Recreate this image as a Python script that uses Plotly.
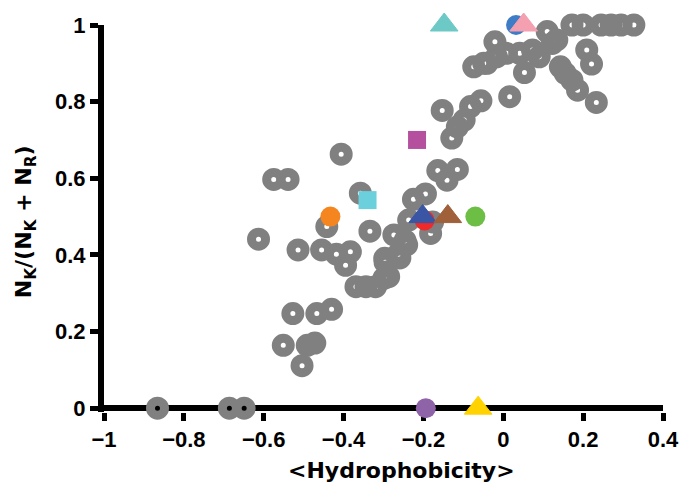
import plotly.graph_objects as go

# Gray data points (mean hydrophobicity, N_K/(N_K+N_R))
gray_x = [-0.866, -0.686, -0.649,
          -0.504, -0.551, -0.491, -0.472, -0.527, -0.467, -0.430,
          -0.369, -0.344, -0.320, -0.299, -0.287,
          -0.514, -0.455, -0.418, -0.383, -0.395, -0.297, -0.263,
          -0.613, -0.334, -0.442, -0.274, -0.246, -0.242, -0.259, -0.296,
          -0.237, -0.182, -0.177, -0.225, -0.195,
          -0.358, -0.575, -0.539, -0.406,
          -0.164, -0.115, -0.141,
          -0.129, -0.115, -0.098, -0.153, -0.082, -0.056, 0.016,
          -0.074, -0.049, -0.041, -0.021, -0.017, 0.008, 0.041, 0.053,
          0.073, 0.090, 0.110, 0.123, 0.134,
          0.172, 0.200, 0.245, 0.270, 0.295, 0.327,
          0.209, 0.221, 0.143, 0.155, 0.172, 0.186, 0.233]
gray_y = [0.0, 0.0, 0.0,
          0.111, 0.164, 0.164, 0.170, 0.247, 0.247, 0.258,
          0.317, 0.317, 0.317, 0.339, 0.343,
          0.413, 0.413, 0.402, 0.408, 0.373, 0.391, 0.402,
          0.441, 0.462, 0.474, 0.452, 0.437, 0.426, 0.392, 0.381,
          0.491, 0.456, 0.486, 0.545, 0.559,
          0.561, 0.597, 0.597, 0.663,
          0.620, 0.623, 0.595,
          0.705, 0.734, 0.752, 0.777, 0.787, 0.802, 0.813,
          0.891, 0.900, 0.900, 0.956, 0.917, 0.926, 0.926, 0.876,
          0.935, 0.917, 0.983, 0.952, 0.961,
          1.0, 1.0, 1.0, 1.0, 1.0, 1.0,
          0.935, 0.898, 0.891, 0.874, 0.856, 0.830, 0.798]

# Highlighted points
special_x = [-0.433, -0.340, -0.216, -0.197, -0.202, -0.139, -0.070,
             -0.148, 0.032, 0.051, -0.194, -0.063]
special_y = [0.50, 0.543, 0.70, 0.49, 0.50, 0.50, 0.50,
             1.0, 1.0, 1.0, 0.0, 0.0]

special_colors = ["#F5861F", "#6BCFDC", "#B5509E", "#EE2A2A", "#3A55A4", "#A0603A",
                  "#6DBE45", "#6CC9C6", "#3E7CC6", "#F4A0B0", "#8E63A8", "#FFD200"]
special_symbols = ["circle", "square", "square", "circle", "triangle-up", "triangle-up",
                   "circle", "triangle-up", "circle", "triangle-up", "circle", "triangle-up"]
sizes = {"circle": 20, "square": 18, "triangle-up": 24}

fig = go.Figure()
fig.add_trace(go.Scatter(
    x=gray_x, y=gray_y, mode="markers", cliponaxis=False, showlegend=False,
    marker=dict(symbol="circle-open", size=14, color="#808080",
                line=dict(width=9, color="#808080"))))

for xv, yv, c, s in zip(special_x, special_y, special_colors, special_symbols):
    fig.add_trace(go.Scatter(
        x=[xv], y=[yv], mode="markers", cliponaxis=False, showlegend=False,
        marker=dict(symbol=s, size=sizes[s], color=c,
                    line=dict(width=1 if s == "triangle-up" else 0, color=c))))

tickfont = dict(family="Liberation Sans, Arial, sans-serif", size=22, color="black", weight="bold")
titlefont = dict(family="DejaVu Sans, sans-serif", size=22, color="black", weight="bold")

fig.update_layout(
    width=691, height=482, autosize=False,
    margin=dict(l=104, r=18, t=25, b=70),
    plot_bgcolor="white", paper_bgcolor="white",
    xaxis=dict(range=[-1, 0.4], tick0=-1, dtick=0.2, showgrid=False, zeroline=False,
               showline=False, ticks="outside", ticklen=8, tickwidth=5, tickcolor="black",
               tickfont=tickfont, layer="below traces"),
    yaxis=dict(range=[-0.01, 1], tick0=0, dtick=0.2, showgrid=False,
               zeroline=True, zerolinecolor="black", zerolinewidth=6,
               showline=True, linecolor="black", linewidth=6,
               ticks="outside", ticklen=8, tickwidth=5, tickcolor="black",
               tickfont=tickfont, layer="below traces"),
    annotations=[
        dict(text="&lt;Hydrophobicity&gt;", xref="paper", yref="paper",
             x=0.533, y=-0.150, xanchor="center", yanchor="middle", showarrow=False,
             font=titlefont),
        dict(text="N<sub>K</sub>/(N<sub>K</sub> + N<sub>R</sub>)", xref="paper", yref="paper",
             x=-0.139, y=0.491, xanchor="center", yanchor="middle", textangle=-90, showarrow=False,
             font=titlefont),
    ],
)

post = (
    "document.documentElement.style.overflow='hidden';"
    "document.body.style.margin='0';document.body.style.overflow='hidden';"
)

fig.write_html("out.html",
               config={"responsive": False, "displayModeBar": False},
               post_script=post)
